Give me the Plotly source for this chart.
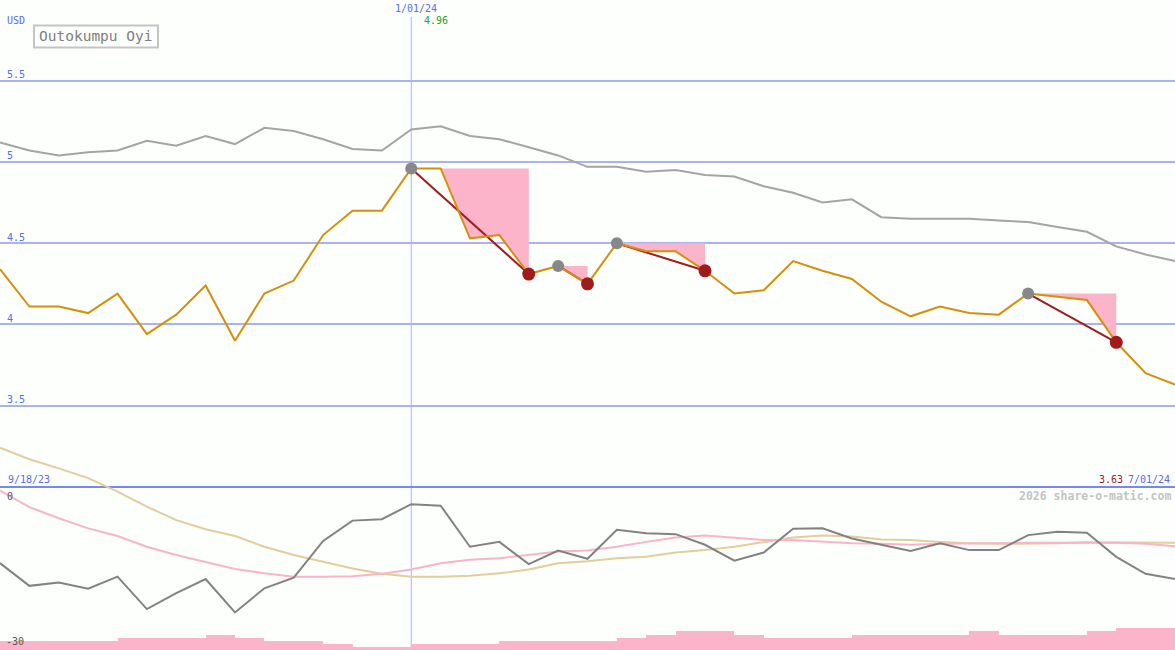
import plotly.graph_objects as go
import pandas as pd

# ---------------- data ----------------
dates = pd.date_range("2023-09-25", periods=41, freq="7D")

price = [4.34, 4.11, 4.11, 4.07, 4.19, 3.94, 4.06, 4.24, 3.90, 4.19,
         4.27, 4.55, 4.70, 4.70, 4.96, 4.96, 4.53, 4.55, 4.31, 4.36,
         4.25, 4.50, 4.45, 4.45, 4.33, 4.19, 4.21, 4.39, 4.33, 4.28,
         4.14, 4.05, 4.11, 4.07, 4.06, 4.19, 4.17, 4.15, 3.89, 3.70, 3.63]

avg_line = [5.12, 5.07, 5.04, 5.06, 5.07, 5.13, 5.10, 5.16, 5.11, 5.21,
            5.19, 5.14, 5.08, 5.07, 5.20, 5.22, 5.16, 5.14, 5.09, 5.04,
            4.97, 4.97, 4.94, 4.95, 4.92, 4.91, 4.85, 4.81, 4.75, 4.77,
            4.66, 4.65, 4.65, 4.65, 4.64, 4.63, 4.60, 4.57, 4.48, 4.43, 4.39]

osc = [-14.1, -18.8, -18.1, -19.4, -16.9, -23.6, -20.3, -17.4, -24.3, -19.3,
       -17.1, -9.5, -5.3, -5.0, -1.9, -2.2, -10.7, -9.7, -14.3, -11.5,
       -13.2, -7.2, -7.9, -8.1, -10.3, -13.6, -11.9, -7.0, -6.9, -9.0,
       -10.3, -11.6, -10.0, -11.4, -11.4, -8.3, -7.6, -7.8, -12.8, -16.3, -17.4]

osc_ma_fast = [0.9, -2.5, -4.8, -6.9, -8.5, -10.7, -12.4, -13.9, -15.3, -16.2,
               -16.9, -16.9, -16.8, -16.3, -15.4, -14.1, -13.4, -13.1, -12.4, -11.7,
               -11.5, -10.7, -9.7, -8.8, -8.4, -8.8, -9.3, -9.3, -9.7, -10.0,
               -10.1, -10.3, -10.1, -10.0, -9.9, -9.9, -9.9, -9.9, -9.9, -10.1, -10.6]

osc_ma_slow = [9.8, 7.4, 5.5, 3.5, 0.7, -2.4, -5.2, -7.1, -8.5, -10.7,
               -12.4, -13.8, -15.2, -16.3, -16.9, -16.9, -16.7, -16.2, -15.4, -14.1,
               -13.7, -13.1, -12.8, -11.9, -11.4, -10.7, -9.7, -8.8, -8.4, -8.6,
               -9.2, -9.3, -9.7, -10.0, -10.1, -10.1, -10.0, -9.8, -9.8, -9.9, -9.9]

volume = [3, 3, 3, 3, 4, 4, 4, 5, 4, 3,
          3, 2, 1, 1, 2, 2, 2, 3, 3, 3,
          3, 4, 5, 6, 6, 5, 4, 4, 4, 5,
          5, 5, 5, 6, 5, 5, 5, 6, 7, 7]

# drawdowns: (peak index, trough index)
drawdowns = [(14, 18), (19, 20), (21, 24), (35, 38)]

grid_levels = [3.5, 4, 4.5, 5, 5.5]
grid_labels = ["3.5", "4", "4.5", "5", "5.5"]
marker_date = "2024-01-01"

# ---------------- styling ----------------
W, H = 1175, 650
BG = "#fcfffc"
MONO = "DejaVu Sans Mono"
BLUE_TXT = "#5a6cf0"

def px(x, y):
    return x / W, 1 - y / H

fig = go.Figure()

# lower panel (oscillator)
fig.add_trace(go.Scatter(x=dates, y=osc_ma_slow, mode="lines",
                         line=dict(color="#e4cc9c", width=2), yaxis="y2"))
fig.add_trace(go.Scatter(x=dates, y=osc_ma_fast, mode="lines",
                         line=dict(color="#f9b4c8", width=2), yaxis="y2"))
fig.add_trace(go.Scatter(x=dates, y=osc, mode="lines",
                         line=dict(color="#858085", width=2), yaxis="y2"))

# volume bars
bar_x = [d + pd.Timedelta(hours=84) for d in dates[:-1]]
fig.add_trace(go.Bar(x=bar_x, y=volume, width=7 * 86400000,
                     marker=dict(color="#fbb4c9", line=dict(width=0)),
                     yaxis="y3"))

# upper gray line
fig.add_trace(go.Scatter(x=dates, y=avg_line, mode="lines",
                         line=dict(color="#a4a4a4", width=2)))

# drawdown fills
for p, t in drawdowns:
    xs = dates[p:t + 1]
    fig.add_trace(go.Scatter(x=xs, y=[price[p]] * len(xs), mode="lines",
                             line=dict(width=0, color="rgba(0,0,0,0)")))
    fig.add_trace(go.Scatter(x=xs, y=price[p:t + 1], mode="lines",
                             line=dict(width=0, color="rgba(0,0,0,0)"),
                             fill="tonexty", fillcolor="#fbb4c9"))

# peak-to-trough lines
for p, t in drawdowns:
    fig.add_trace(go.Scatter(x=[dates[p], dates[t]], y=[price[p], price[t]],
                             mode="lines", line=dict(color="#a01c1c", width=2)))

# price line
fig.add_trace(go.Scatter(x=dates, y=price, mode="lines",
                         line=dict(color="#d4900a", width=2)))

# markers
fig.add_trace(go.Scatter(x=[dates[p] for p, _ in drawdowns],
                         y=[price[p] for p, _ in drawdowns], mode="markers",
                         marker=dict(color="#888888", size=12)))
fig.add_trace(go.Scatter(x=[dates[t] for _, t in drawdowns],
                         y=[price[t] for _, t in drawdowns], mode="markers",
                         marker=dict(color="#a01c1c", size=13)))

# shapes
shapes = [
    dict(type="line", xref="x", yref="paper", x0=marker_date, x1=marker_date,
         y0=0, y1=1 - 17 / H, line=dict(color="#a8b4f4", width=1), layer="below"),
    dict(type="line", xref="paper", yref="paper", x0=0, x1=1,
         y0=1 - 487 / H, y1=1 - 487 / H, line=dict(color="#7888f0", width=2),
         layer="below"),
    dict(type="rect", xref="paper", yref="paper",
         x0=34 / W, x1=158 / W, y0=1 - 47.5 / H, y1=1 - 25.5 / H,
         line=dict(color="#c4c4c4", width=2), fillcolor=BG, layer="above"),
]

annotations = []

def txt(text, x, y, color, size=10, anchor="left", bold=False):
    xx, yy = px(x, y)
    annotations.append(dict(text=("<b>%s</b>" % text) if bold else text,
                            x=xx, y=yy, xref="paper", yref="paper",
                            xanchor=anchor, yanchor="middle", showarrow=False,
                            font=dict(family=MONO, size=size, color=color)))

txt("USD", 5, 20, BLUE_TXT)
for v, lab in zip(grid_levels, grid_labels):
    ypix = (5.9965 - v) * 162.5
    txt(lab, 5, ypix - 6, BLUE_TXT)
txt("Outokumpu Oyi", 96, 36.5, "#808080", size=14.5, anchor="center")
txt("1/01/24", 416, 9, BLUE_TXT, anchor="center")
txt("4.96", 435.5, 21, "#2aa02a", anchor="center")
txt("9/18/23", 6, 479, BLUE_TXT)
txt("3.63", 1110.5, 479, "#a01c1c", anchor="center")
txt("7/01/24", 1172, 479, BLUE_TXT, anchor="right")
txt("0", 5, 496, "#555555")
txt("-30", 4, 641, "#555555")
txt("2026 share-o-matic.com", 1173, 496, "#c4c4c4", size=11.5, anchor="right", bold=True)

fig.update_layout(
    width=W, height=H, autosize=False,
    margin=dict(l=0, r=0, t=0, b=0, pad=0),
    paper_bgcolor=BG, plot_bgcolor=BG,
    showlegend=False,
    bargap=0,
    xaxis=dict(type="date", range=[dates[0], dates[-1]], visible=False,
               fixedrange=True),
    yaxis=dict(range=[1.9965, 5.9965], tickvals=grid_levels, showgrid=True,
               gridcolor="#a8b4f0", gridwidth=2, showticklabels=False,
               zeroline=False, showline=False, ticks="", fixedrange=True),
    yaxis2=dict(range=[(495 - 650) / 4.833, 495 / 4.833], overlaying="y",
                visible=False, fixedrange=True),
    yaxis3=dict(range=[0, H / 3.1], overlaying="y", visible=False,
                fixedrange=True),
    shapes=shapes,
    annotations=annotations,
)

fig.write_html("out.html", config={"displayModeBar": False},
               post_script="document.body.style.margin='0';document.body.style.background='%s';" % BG)
